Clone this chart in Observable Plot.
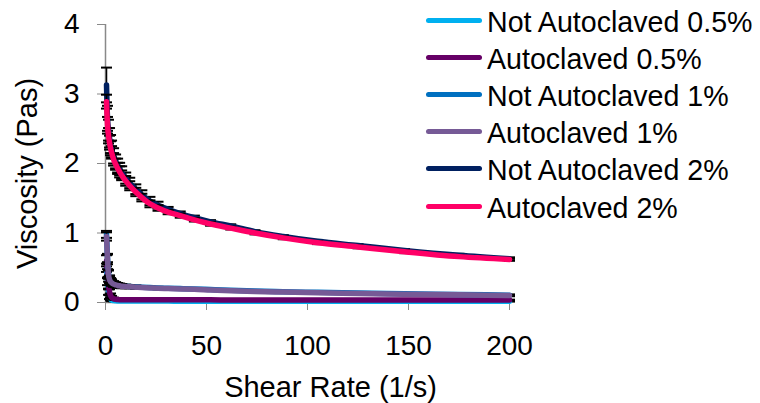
<!DOCTYPE html>
<html>
<head>
<meta charset="utf-8">
<script src="https://cdn.jsdelivr.net/npm/d3@7"></script>
<script src="https://cdn.jsdelivr.net/npm/@observablehq/plot@0.6"></script>
<style>
  body { margin: 0; background: #fff; }
  #chart { position: relative; width: 760px; height: 403px; font-family: "Liberation Sans", Arial, sans-serif; }
  #legend { position: absolute; left: 426px; top: 4px; }
  .row { display: flex; align-items: center; height: 37.1px; }
  .swatch { width: 56px; height: 5px; border-radius: 3px; margin-right: 5px; position: relative; top: -2px; flex: none; }
  .label { font-size: 28.6px; color: #000; white-space: nowrap; }
</style>
</head>
<body>
<div id="chart"><div id="legend"></div></div>
<script>
// Shear rates (1/s) at which viscosity was measured
const shearRate = [0.5, 1, 1.5, 2, 2.5, 3, 4, 5, 6, 7, 8, 10, 12, 15, 18, 22, 26, 31, 37, 44, 52, 62, 74, 88, 105, 125, 148, 175, 200];

// Mean viscosity (Pas) per sample
const notAutoclaved05 = [0.50, 0.30, 0.15, 0.08, 0.05, 0.035, 0.028, 0.025, 0.023, 0.022, 0.021, 0.020, 0.020, 0.020, 0.020, 0.020, 0.020, 0.020, 0.019, 0.019, 0.019, 0.019, 0.018, 0.018, 0.018, 0.018, 0.018, 0.018, 0.018];
const autoclaved05 = [0.60, 0.42, 0.25, 0.15, 0.10, 0.075, 0.055, 0.047, 0.043, 0.041, 0.040, 0.040, 0.039, 0.039, 0.039, 0.039, 0.038, 0.038, 0.038, 0.038, 0.038, 0.037, 0.037, 0.037, 0.037, 0.037, 0.037, 0.036, 0.036];
const notAutoclaved1 = [0.98, 0.64, 0.42, 0.34, 0.31, 0.29, 0.27, 0.26, 0.25, 0.245, 0.24, 0.235, 0.23, 0.225, 0.22, 0.215, 0.21, 0.205, 0.20, 0.195, 0.186, 0.176, 0.166, 0.156, 0.146, 0.136, 0.126, 0.116, 0.106];
const autoclaved1 = [0.95, 0.62, 0.40, 0.33, 0.30, 0.285, 0.265, 0.255, 0.245, 0.24, 0.235, 0.23, 0.225, 0.22, 0.215, 0.21, 0.205, 0.20, 0.195, 0.19, 0.18, 0.17, 0.16, 0.15, 0.14, 0.13, 0.12, 0.11, 0.10];
const notAutoclaved2 = [3.13, 2.65, 2.48, 2.37, 2.28, 2.21, 2.11, 2.03, 1.97, 1.92, 1.87, 1.79, 1.72, 1.63, 1.55, 1.46, 1.40, 1.34, 1.28, 1.22, 1.16, 1.10, 1.02, 0.95, 0.88, 0.82, 0.75, 0.68, 0.63];
const autoclaved2 = [2.89, 2.55, 2.40, 2.30, 2.22, 2.16, 2.06, 1.99, 1.93, 1.88, 1.83, 1.75, 1.68, 1.59, 1.51, 1.42, 1.36, 1.30, 1.25, 1.19, 1.13, 1.07, 1.00, 0.93, 0.86, 0.80, 0.73, 0.66, 0.62];

// Standard deviations (Pas)
const errNotAutoclaved05 = [0.06, 0.05, 0.04, 0.03, 0.02, 0.015, 0.01, 0.01, 0.008, 0.008, 0.006, 0.006, 0.005, 0.005, 0.005, 0.005, 0.005, 0.005, 0.005, 0.005, 0.005, 0.005, 0.005, 0.005, 0.005, 0.005, 0.005, 0.005, 0.005];
const errAutoclaved05 = [0.08, 0.06, 0.05, 0.04, 0.03, 0.02, 0.015, 0.01, 0.01, 0.01, 0.008, 0.008, 0.008, 0.006, 0.006, 0.006, 0.006, 0.006, 0.005, 0.005, 0.005, 0.005, 0.005, 0.005, 0.005, 0.005, 0.005, 0.005, 0.005];
const errNotAutoclaved1 = [0.05, 0.06, 0.05, 0.05, 0.04, 0.04, 0.035, 0.03, 0.03, 0.025, 0.025, 0.02, 0.02, 0.02, 0.015, 0.015, 0.015, 0.01, 0.01, 0.01, 0.01, 0.01, 0.01, 0.01, 0.01, 0.01, 0.01, 0.01, 0.01];
const errAutoclaved1 = [0.06, 0.07, 0.06, 0.05, 0.05, 0.045, 0.04, 0.035, 0.03, 0.03, 0.03, 0.025, 0.02, 0.02, 0.02, 0.015, 0.015, 0.015, 0.01, 0.01, 0.01, 0.01, 0.01, 0.01, 0.01, 0.01, 0.01, 0.01, 0.01];
const errNotAutoclaved2 = [0.25, 0.18, 0.15, 0.14, 0.13, 0.12, 0.11, 0.10, 0.10, 0.09, 0.09, 0.08, 0.075, 0.07, 0.065, 0.06, 0.05, 0.035, 0.03, 0.03, 0.025, 0.025, 0.02, 0.02, 0.02, 0.02, 0.02, 0.02, 0.02];
const errAutoclaved2 = [0.10, 0.12, 0.11, 0.10, 0.10, 0.09, 0.09, 0.08, 0.08, 0.08, 0.07, 0.07, 0.065, 0.06, 0.055, 0.05, 0.04, 0.03, 0.03, 0.025, 0.025, 0.02, 0.02, 0.02, 0.02, 0.02, 0.02, 0.02, 0.02];

const seriesNames = ["Not Autoclaved 0.5%", "Autoclaved 0.5%", "Not Autoclaved 1%", "Autoclaved 1%", "Not Autoclaved 2%", "Autoclaved 2%"];
const seriesColors = ["#00b0f0", "#660066", "#0070c0", "#765a96", "#002060", "#ff0066"];
const seriesValues = [notAutoclaved05, autoclaved05, notAutoclaved1, autoclaved1, notAutoclaved2, autoclaved2];
const seriesErrors = [errNotAutoclaved05, errAutoclaved05, errNotAutoclaved1, errAutoclaved1, errNotAutoclaved2, errAutoclaved2];

const xTicks = [0, 50, 100, 150, 200];
const yTicks = [0, 1, 2, 3, 4];

// Horizontal cap for the error bars
const capSymbol = { draw(ctx) { ctx.moveTo(-5.5, 0); ctx.lineTo(5.5, 0); } };

const seriesMarks = seriesNames.flatMap((name, i) => {
  const rows = shearRate.map((x, j) => ({ x, y: seriesValues[i][j], e: seriesErrors[i][j] }));
  return [
    Plot.ruleX(rows, { x: "x", y1: d => d.y - d.e, y2: d => d.y + d.e, stroke: "black", strokeWidth: 1.5 }),
    Plot.dot(rows, { x: "x", y: d => d.y + d.e, symbol: capSymbol, stroke: "black", strokeWidth: 2, fill: "none" }),
    Plot.dot(rows, { x: "x", y: d => d.y - d.e, symbol: capSymbol, stroke: "black", strokeWidth: 2, fill: "none" }),
    Plot.line(rows, { x: "x", y: "y", stroke: seriesColors[i], strokeWidth: 5.5, curve: "monotone-x", strokeLinejoin: "round" })
  ];
});

const chart = Plot.plot({
  width: 760,
  height: 403,
  marginLeft: 105,
  marginRight: 251,
  marginTop: 24,
  marginBottom: 101,
  style: { fontFamily: "'Liberation Sans', Arial, sans-serif", fontSize: "28px", background: "#fff", color: "#000" },
  x: { domain: [0, 200] },
  y: { domain: [0, 4] },
  marks: [
    Plot.axisX({ ticks: xTicks, tickSize: 8, tickPadding: 25, stroke: "#898989", fill: "#000", fontSize: 28, label: null, tickFormat: d => String(d) }),
    Plot.axisY({ ticks: yTicks, tickSize: 8, tickPadding: 18, stroke: "#898989", fill: "#000", fontSize: 28, label: null, tickFormat: d => String(d) }),
    Plot.ruleX([0], { stroke: "#898989", strokeWidth: 1.5 }),
    Plot.ruleY([0], { stroke: "#898989", strokeWidth: 1.5 }),
    ...seriesMarks,
    Plot.text(["Shear Rate (1/s)"], { text: d => d, frameAnchor: "bottom", textAnchor: "middle", dx: 23, dy: 94, fontSize: 29, fill: "#000" }),
    Plot.text(["Viscosity (Pas)"], { text: d => d, frameAnchor: "left", textAnchor: "middle", rotate: -90, dx: -78, dy: 10, fontSize: 29, fill: "#000" })
  ]
});

document.getElementById("chart").prepend(chart);

// Legend to the right of the plot
const legend = document.getElementById("legend");
seriesNames.forEach((name, i) => {
  const row = document.createElement("div");
  row.className = "row";
  const sw = document.createElement("span");
  sw.className = "swatch";
  sw.style.background = seriesColors[i];
  const lab = document.createElement("span");
  lab.className = "label";
  lab.textContent = name;
  row.append(sw, lab);
  legend.append(row);
});
</script>
</body>
</html>
